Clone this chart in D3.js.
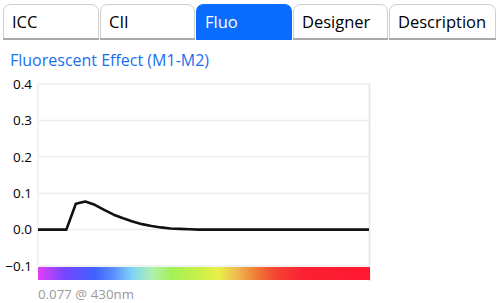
<!DOCTYPE html>
<html><head><meta charset="utf-8">
<script src="https://cdn.jsdelivr.net/npm/d3@7"></script>
<style>
html,body{margin:0;padding:0;background:#fff;}
svg{display:block;font-family:"Open Sans",sans-serif;}
</style></head><body>
<svg id="c" width="500" height="303"></svg>
<script>
const tabs = ["ICC","CII","Fluo","Designer","Description"];
const activeTab = "Fluo";
const title = "Fluorescent Effect (M1-M2)";
const wavelengths = [380,390,400,410,420,430,440,450,460,470,480,490,500,510,520,530,540,550,560,570,580,590,600,610,620,630,640,650,660,670,680,690,700,710,720,730];
const fluo = [0,0,0,0,0.071,0.077,0.068,0.054,0.041,0.031,0.022,0.015,0.010,0.006,0.003,0.002,0.001,0,0,0,0,0,0,0,0,0,0,0,0,0,0,0,0,0,0,0];
const yTicks = [-0.1,0.0,0.1,0.2,0.3,0.4];
const spectrumWl = [380,410,440,460,480,500,520,550,570,590,610,630,660,730];
const spectrumColors = ["#e040f8","#7048ff","#4060ff","#5c90ff","#80d4f4","#b0f0b0","#a4f058","#c8f048","#e8f048","#f0b850","#f07c34","#f44432","#fa2032","#ff1830"];
const readout = "0.077 @ 430nm";

const svg = d3.select("#c");
// tabs
const tabX = [3,100,196,293,389], tabW = [96,95,96,95,107];
const tg = svg.append("g");
tabs.forEach((t,i)=>{
  const x=tabX[i], w=tabW[i], y=4, h=36, r=8;
  const act = t===activeTab;
  tg.append("path")
    .attr("d",`M${x+0.5},${y+h} V${y+r} Q${x+0.5},${y+0.5} ${x+r},${y+0.5} H${x+w-r} Q${x+w-0.5},${y+0.5} ${x+w-0.5},${y+r} V${y+h}`)
    .attr("fill",act?"#0a6cff":"#fff").attr("stroke",act?"#0a6cff":"#cfcfcf").attr("stroke-width",1);
  if(!act) tg.append("rect").attr("x",x).attr("y",y+h-2).attr("width",w).attr("height",2).attr("fill","#a8a8a8");
  tg.append("text").attr("x",x+9).attr("y",28).attr("font-size",16.5)
    .attr("fill",act?"#fff":"#000").text(t);
});
svg.append("text").attr("x",10).attr("y",66).attr("font-size",16).attr("fill","#1a6ef0").text(title);

const x = d3.scaleLinear().domain([380,730]).range([38,369]);
const y = d3.scaleLinear().domain([-0.1,0.4]).range([266,84]);

// grid
const grid = svg.append("g");
grid.selectAll("line.h").data(yTicks).join("line")
  .attr("x1",38).attr("x2",369).attr("y1",d=>y(d)).attr("y2",d=>y(d))
  .attr("stroke","#eeeeee").attr("stroke-width",1.5);
grid.append("line").attr("x1",38).attr("x2",38).attr("y1",84).attr("y2",266).attr("stroke","#eeeeee").attr("stroke-width",1.5);
grid.append("line").attr("x1",369.5).attr("x2",369.5).attr("y1",83).attr("y2",281).attr("stroke","#e8e8e8").attr("stroke-width",2);

const yAxis = d3.axisLeft(y).tickValues(yTicks).tickFormat(d3.format(".1f")).tickSize(0).tickPadding(4);
const ya = svg.append("g").attr("transform","translate(36,0)").call(yAxis);
ya.select(".domain").remove();
ya.selectAll("text").attr("font-size",13.5).attr("fill","#000").attr("font-family","Open Sans, sans-serif");

// spectrum bar
const defs = svg.append("defs");
const lg = defs.append("linearGradient").attr("id","spec").attr("x1","0%").attr("x2","100%");
spectrumWl.forEach((w,i)=>lg.append("stop").attr("offset",((w-380)/350*100)+"%").attr("stop-color",spectrumColors[i]));
svg.append("rect").attr("x",x(380)).attr("y",267).attr("width",x(730)-x(380)+1).attr("height",13).attr("fill","url(#spec)");

// line
const line = d3.line().x((d,i)=>x(wavelengths[i])).y(d=>y(d));
svg.append("path").datum(fluo).attr("d",line).attr("fill","none").attr("stroke","#111").attr("stroke-width",2.6).attr("stroke-linejoin","round");

svg.append("text").attr("x",38).attr("y",299).attr("font-size",13.3).attr("fill","#9a9a9a").text(readout);
</script></body></html>
